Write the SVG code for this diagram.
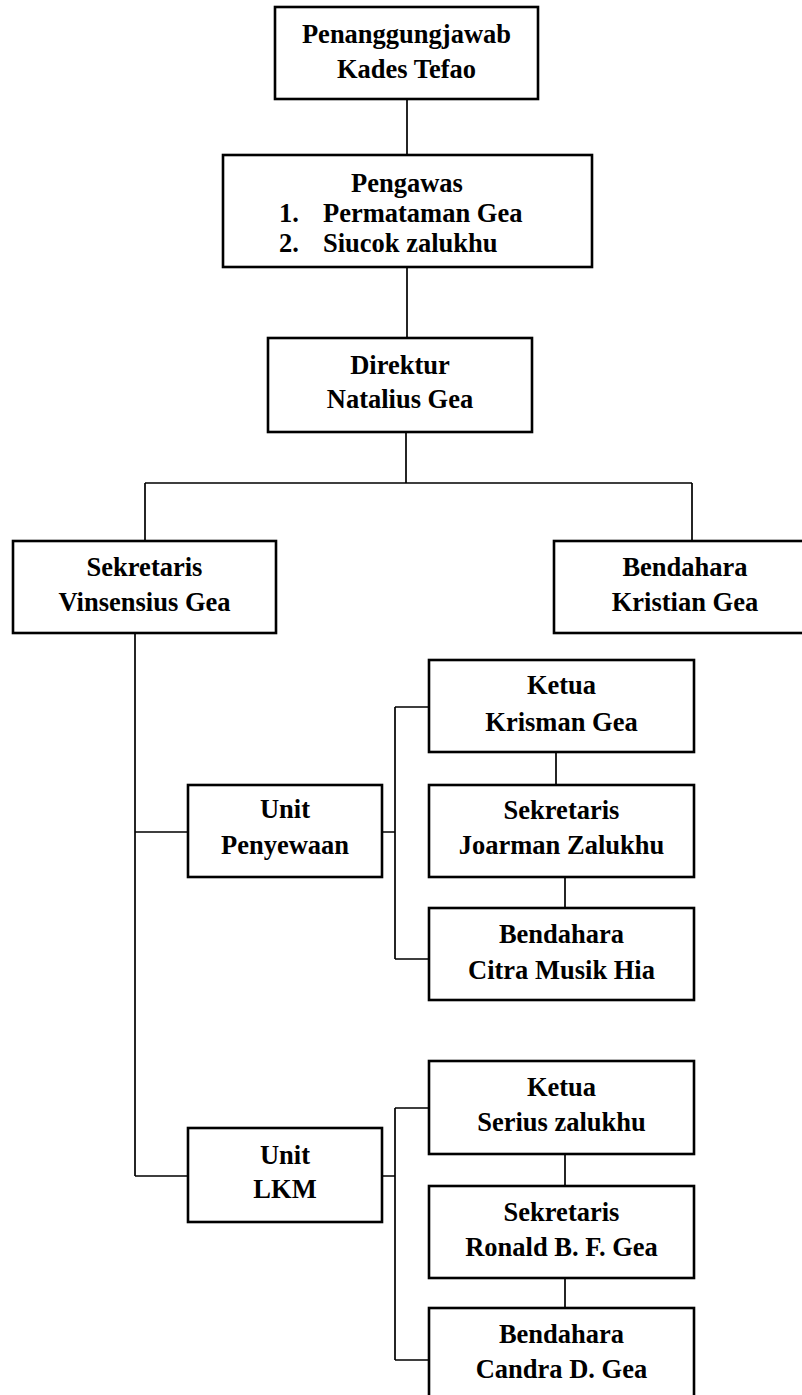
<svg xmlns="http://www.w3.org/2000/svg" width="802" height="1395" viewBox="0 0 802 1395">
<style>
.box{fill:#fff;stroke:#000;stroke-width:2.6}
.ln{fill:none;stroke:#000;stroke-width:1.7}
text{font-family:"Liberation Serif","Times New Roman",serif;font-weight:bold;font-size:26.5px;fill:#000}
.c{text-anchor:middle}
</style>
<rect width="802" height="1395" fill="#fff"/>
<g id="connectors">
<path class="ln" d="M407 99V155M407 267V338M406 432V483M145 483H692M145 483V541M692 483V541"/>
<path class="ln" d="M135 633V1176M135 832H188M135 1176H188"/>
<path class="ln" d="M382 832H395M395 707V959M395 707H429M395 959H429M556 752V785M565 877V908"/>
<path class="ln" d="M382 1176H395M395 1108V1360M395 1108H429M395 1360H429M565 1154V1186M565 1278V1308"/>
</g>
<g id="penanggungjawab">
<rect class="box" x="275" y="7" width="263" height="92"/>
<text class="c" x="406.5" y="43">Penanggungjawab</text>
<text class="c" x="406.5" y="78">Kades Tefao</text>
</g>
<g id="pengawas">
<rect class="box" x="223" y="155" width="369" height="112"/>
<text class="c" x="407" y="192">Pengawas</text>
<text x="279" y="222">1.</text>
<text x="323" y="222">Permataman Gea</text>
<text x="279" y="252">2.</text>
<text x="323" y="252">Siucok zalukhu</text>
</g>
<g id="direktur">
<rect class="box" x="268" y="338" width="264" height="94"/>
<text class="c" x="400" y="374">Direktur</text>
<text class="c" x="400" y="408">Natalius Gea</text>
</g>
<g id="sekretaris">
<rect class="box" x="13" y="541" width="263" height="92"/>
<text class="c" x="144.5" y="576">Sekretaris</text>
<text class="c" x="144.5" y="611">Vinsensius Gea</text>
</g>
<g id="bendahara">
<rect class="box" x="554" y="541" width="270" height="92"/>
<text class="c" x="685" y="576">Bendahara</text>
<text class="c" x="685" y="611">Kristian Gea</text>
</g>
<g id="unit-penyewaan">
<rect class="box" x="188" y="785" width="194" height="92"/>
<text class="c" x="285" y="818">Unit</text>
<text class="c" x="285" y="854">Penyewaan</text>
</g>
<g id="ketua-krisman">
<rect class="box" x="429" y="660" width="265" height="92"/>
<text class="c" x="561.5" y="694">Ketua</text>
<text class="c" x="561.5" y="731">Krisman Gea</text>
</g>
<g id="sekretaris-joarman">
<rect class="box" x="429" y="785" width="265" height="92"/>
<text class="c" x="561.5" y="819">Sekretaris</text>
<text class="c" x="561.5" y="854">Joarman Zalukhu</text>
</g>
<g id="bendahara-citra">
<rect class="box" x="429" y="908" width="265" height="92"/>
<text class="c" x="561.5" y="943">Bendahara</text>
<text class="c" x="561.5" y="979">Citra Musik Hia</text>
</g>
<g id="unit-lkm">
<rect class="box" x="188" y="1128" width="194" height="94"/>
<text class="c" x="285" y="1164">Unit</text>
<text class="c" x="285" y="1198">LKM</text>
</g>
<g id="ketua-serius">
<rect class="box" x="429" y="1061" width="265" height="93"/>
<text class="c" x="561.5" y="1096">Ketua</text>
<text class="c" x="561.5" y="1131">Serius zalukhu</text>
</g>
<g id="sekretaris-ronald">
<rect class="box" x="429" y="1186" width="265" height="92"/>
<text class="c" x="561.5" y="1221">Sekretaris</text>
<text class="c" x="561.5" y="1256">Ronald B. F. Gea</text>
</g>
<g id="bendahara-candra">
<rect class="box" x="429" y="1308" width="265" height="110"/>
<text class="c" x="561.5" y="1343">Bendahara</text>
<text class="c" x="561.5" y="1378">Candra D. Gea</text>
</g>
</svg>
